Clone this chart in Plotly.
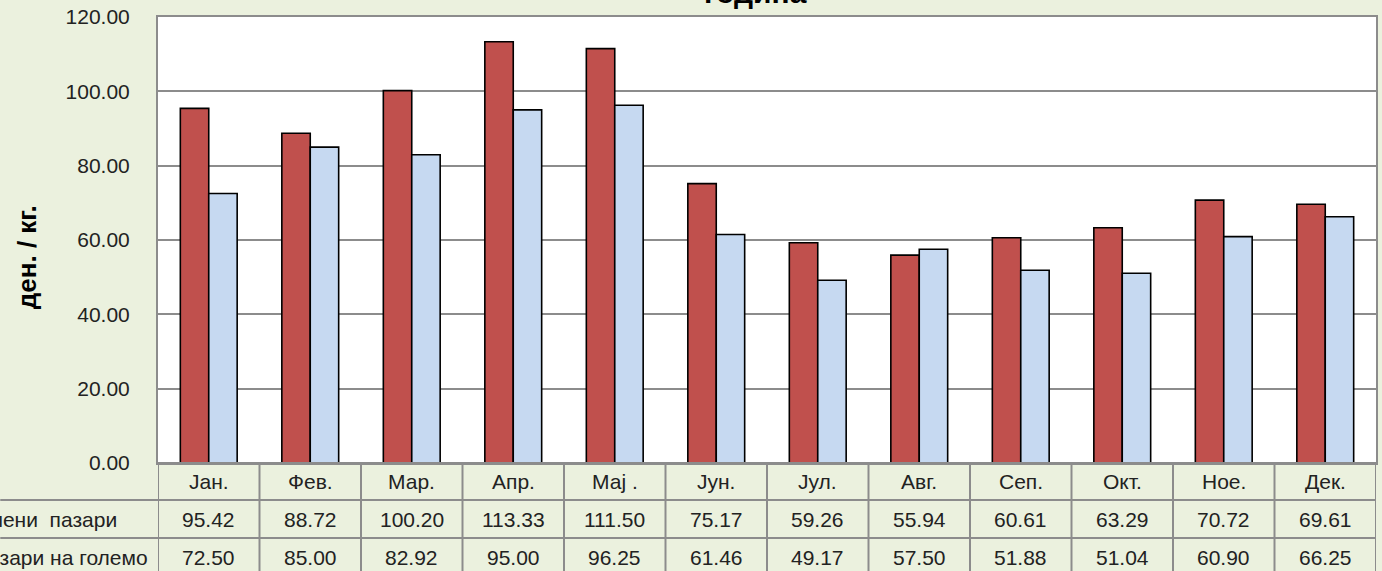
import plotly.graph_objects as go

# data
months = ["Јан.", "Фев.", "Мар.", "Апр.", "Мај .", "Јун.", "Јул.", "Авг.", "Сеп.", "Окт.", "Ное.", "Дек."]
green_name = "Зелени  пазари"
green_vals = [95.42, 88.72, 100.20, 113.33, 111.50, 75.17, 59.26, 55.94, 60.61, 63.29, 70.72, 69.61]
whole_name = "Пазари на големо"
whole_vals = [72.50, 85.00, 82.92, 95.00, 96.25, 61.46, 49.17, 57.50, 51.88, 51.04, 60.90, 66.25]

W, H = 1382, 571
L, R, T, B = 158, 4, 17, 108
plot_h = H - T - B
plot_w = W - L - R
bg = "#EBF1DE"
grid = "#8C8C8C"
font = "Liberation Sans"
fs = 21

def py(p):  # pixel row -> paper y
    return 1 - (p - T) / plot_h

def px_(p):  # pixel column -> paper x
    return (p - L) / plot_w

fig = go.Figure()
fig.add_trace(go.Bar(x=months, y=green_vals, name=green_name,
                     marker=dict(color="#C0504D", line=dict(color="black", width=1.6))))
fig.add_trace(go.Bar(x=months, y=whole_vals, name=whole_name,
                     marker=dict(color="#C6D9F1", line=dict(color="black", width=1.6))))

shapes = []
ann = []
row_tops = [463, 500, 538, 576]
# horizontal table lines
for i, yp in enumerate(row_tops[:-1]):
    x0 = 0 if i > 0 else L
    shapes.append(dict(type="line", xref="paper", yref="paper",
                       x0=px_(x0), x1=1, y0=py(yp), y1=py(yp),
                       line=dict(color=grid, width=2)))
# vertical lines
for k in range(len(months) + 1):
    shapes.append(dict(type="line", xref="x", yref="paper",
                       x0=k - 0.5, x1=k - 0.5, y0=py(row_tops[0]), y1=py(row_tops[-1]),
                       line=dict(color=grid, width=2)))

cell_font = dict(size=fs, color="#222", family=font)
for k, m in enumerate(months):
    ann.append(dict(x=k, y=py((row_tops[0] + row_tops[1]) / 2), xref="x", yref="paper",
                    xanchor="center", yanchor="middle", text=m, showarrow=False, font=cell_font))
    for r, vals in enumerate([green_vals, whole_vals]):
        ann.append(dict(x=k, y=py((row_tops[r + 1] + row_tops[r + 2]) / 2), xref="x", yref="paper",
                        xanchor="center", yanchor="middle", text=f"{vals[k]:.2f}",
                        showarrow=False, font=cell_font))

# row labels, cut off at the left edge like the original
for r, (name, xend) in enumerate([(green_name, 119), (whole_name, 150)]):
    ann.append(dict(x=px_(xend), y=py((row_tops[r + 1] + row_tops[r + 2]) / 2),
                    xref="paper", yref="paper", xanchor="right", yanchor="middle",
                    text=name, showarrow=False, font=cell_font))

ann.append(dict(x=px_(756), y=py(11), xref="paper", yref="paper", xanchor="center", yanchor="bottom",
                text="<b>година</b>", showarrow=False, font=dict(size=30, color="black", family=font)))
ann.append(dict(x=px_(27), y=py(257), xref="paper", yref="paper", xanchor="center", yanchor="middle",
                textangle=-90, text="<b>ден. / кг.</b>", showarrow=False,
                font=dict(size=26, color="black", family=font)))

fig.update_layout(
    width=W, height=H,
    margin=dict(l=L, r=R, t=T, b=B),
    paper_bgcolor=bg, plot_bgcolor="white",
    barmode="group", bargap=0.44, bargroupgap=0,
    showlegend=False,
    shapes=shapes, annotations=ann,
    font=dict(family=font, size=fs, color="#222"),
    xaxis=dict(showticklabels=False, ticks="", showline=True, linecolor=grid, linewidth=2,
               mirror=True, showgrid=False, range=[-0.5, len(months) - 0.5]),
    yaxis=dict(range=[0, 120], dtick=20, tickformat=".2f", showgrid=True, gridcolor=grid,
               gridwidth=1.5, showline=True, linecolor=grid, linewidth=2, mirror=True,
               zeroline=False, ticks="", ticklabelstandoff=22,
               tickfont=dict(size=fs, color="#222", family=font)),
)

fig.write_html("out.html", config={"displayModeBar": False},
               post_script="document.body.style.margin='0';document.body.style.overflow='hidden';")
